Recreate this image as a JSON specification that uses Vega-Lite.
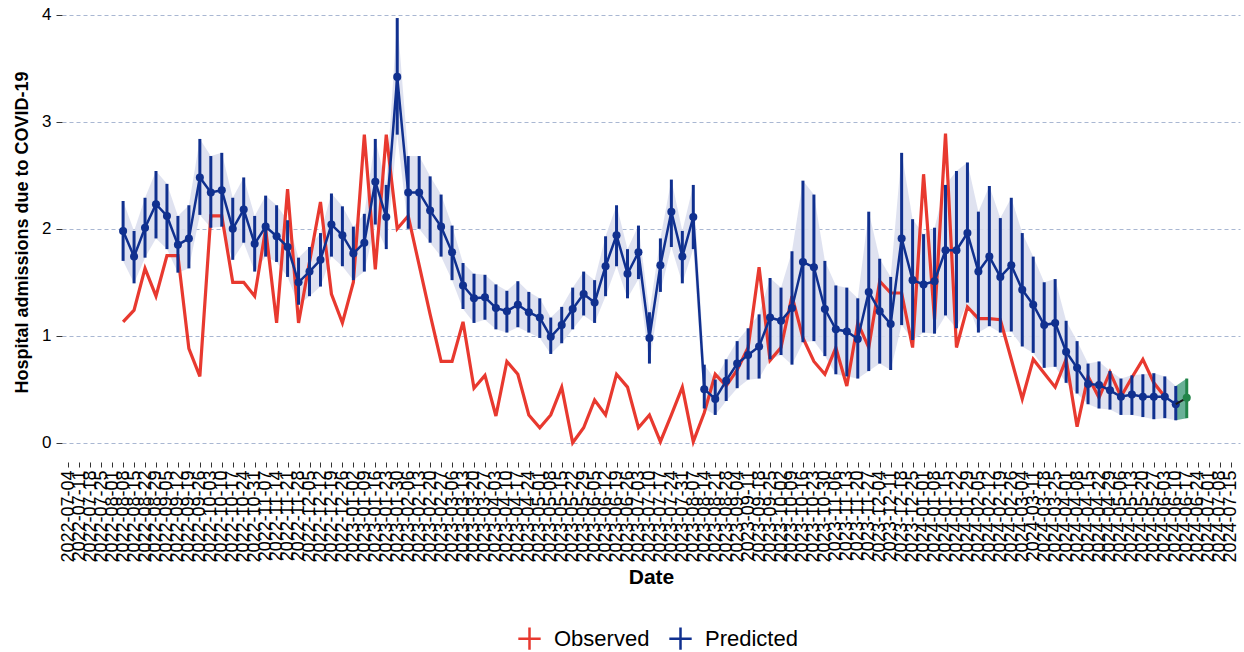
{
  "$schema": "https://vega.github.io/schema/vega-lite/v6.json",
  "autosize": {"type": "none"},
  "padding": {"left": 62, "top": 2, "right": 4, "bottom": 190},
  "width": 1178,
  "height": 460,
  "background": "white",
  "config": {
    "view": {"stroke": null},
    "font": "Liberation Sans"
  },
  "datasets": {
    "main": [
      {"date": "2022-08-08", "obs": 1.13, "pred": 1.98, "lo": 1.70, "hi": 2.26},
      {"date": "2022-08-15", "obs": 1.24, "pred": 1.74, "lo": 1.49, "hi": 1.98},
      {"date": "2022-08-22", "obs": 1.63, "pred": 2.01, "lo": 1.73, "hi": 2.29},
      {"date": "2022-08-29", "obs": 1.37, "pred": 2.23, "lo": 1.91, "hi": 2.54},
      {"date": "2022-09-05", "obs": 1.75, "pred": 2.12, "lo": 1.81, "hi": 2.42},
      {"date": "2022-09-12", "obs": 1.75, "pred": 1.85, "lo": 1.59, "hi": 2.12},
      {"date": "2022-09-19", "obs": 0.88, "pred": 1.91, "lo": 1.63, "hi": 2.22},
      {"date": "2022-09-26", "obs": 0.62, "pred": 2.48, "lo": 2.13, "hi": 2.84},
      {"date": "2022-10-03", "obs": 2.12, "pred": 2.34, "lo": 2.01, "hi": 2.68},
      {"date": "2022-10-10", "obs": 2.12, "pred": 2.36, "lo": 2.02, "hi": 2.71},
      {"date": "2022-10-17", "obs": 1.50, "pred": 2.00, "lo": 1.71, "hi": 2.29},
      {"date": "2022-10-24", "obs": 1.50, "pred": 2.18, "lo": 1.87, "hi": 2.48},
      {"date": "2022-10-31", "obs": 1.37, "pred": 1.86, "lo": 1.60, "hi": 2.12},
      {"date": "2022-11-07", "obs": 2.00, "pred": 2.02, "lo": 1.74, "hi": 2.31},
      {"date": "2022-11-14", "obs": 1.12, "pred": 1.93, "lo": 1.69, "hi": 2.22},
      {"date": "2022-11-21", "obs": 2.37, "pred": 1.83, "lo": 1.55, "hi": 2.08},
      {"date": "2022-11-28", "obs": 1.12, "pred": 1.50, "lo": 1.29, "hi": 1.73},
      {"date": "2022-12-05", "obs": 1.69, "pred": 1.60, "lo": 1.37, "hi": 1.83},
      {"date": "2022-12-12", "obs": 2.25, "pred": 1.71, "lo": 1.46, "hi": 1.96},
      {"date": "2022-12-19", "obs": 1.39, "pred": 2.04, "lo": 1.74, "hi": 2.33},
      {"date": "2022-12-26", "obs": 1.12, "pred": 1.94, "lo": 1.65, "hi": 2.21},
      {"date": "2023-01-02", "obs": 1.50, "pred": 1.77, "lo": 1.52, "hi": 2.02},
      {"date": "2023-01-09", "obs": 2.88, "pred": 1.87, "lo": 1.60, "hi": 2.14},
      {"date": "2023-01-16", "obs": 1.62, "pred": 2.44, "lo": 2.04, "hi": 2.84},
      {"date": "2023-01-23", "obs": 2.88, "pred": 2.11, "lo": 1.81, "hi": 2.41},
      {"date": "2023-01-30", "obs": 2.00, "pred": 3.42, "lo": 2.88, "hi": 3.97},
      {"date": "2023-02-06", "obs": 2.12, "pred": 2.34, "lo": 2.00, "hi": 2.68},
      {"date": "2023-02-13", "obs": 1.66, "pred": 2.34, "lo": 2.00, "hi": 2.68},
      {"date": "2023-02-20", "obs": 1.20, "pred": 2.17, "lo": 1.87, "hi": 2.49},
      {"date": "2023-02-27", "obs": 0.76, "pred": 2.02, "lo": 1.74, "hi": 2.32},
      {"date": "2023-03-06", "obs": 0.76, "pred": 1.78, "lo": 1.52, "hi": 2.03},
      {"date": "2023-03-13", "obs": 1.13, "pred": 1.47, "lo": 1.25, "hi": 1.68},
      {"date": "2023-03-20", "obs": 0.51, "pred": 1.35, "lo": 1.12, "hi": 1.58},
      {"date": "2023-03-27", "obs": 0.63, "pred": 1.36, "lo": 1.15, "hi": 1.57},
      {"date": "2023-04-03", "obs": 0.25, "pred": 1.26, "lo": 1.06, "hi": 1.48},
      {"date": "2023-04-10", "obs": 0.76, "pred": 1.23, "lo": 1.03, "hi": 1.42},
      {"date": "2023-04-17", "obs": 0.64, "pred": 1.29, "lo": 1.08, "hi": 1.51},
      {"date": "2023-04-24", "obs": 0.26, "pred": 1.22, "lo": 1.03, "hi": 1.41},
      {"date": "2023-05-01", "obs": 0.14, "pred": 1.17, "lo": 0.98, "hi": 1.35},
      {"date": "2023-05-08", "obs": 0.26, "pred": 0.99, "lo": 0.83, "hi": 1.17},
      {"date": "2023-05-15", "obs": 0.52, "pred": 1.10, "lo": 0.93, "hi": 1.27},
      {"date": "2023-05-22", "obs": 0.00, "pred": 1.25, "lo": 1.06, "hi": 1.45},
      {"date": "2023-05-29", "obs": 0.14, "pred": 1.39, "lo": 1.19, "hi": 1.60},
      {"date": "2023-06-05", "obs": 0.40, "pred": 1.31, "lo": 1.12, "hi": 1.52},
      {"date": "2023-06-12", "obs": 0.26, "pred": 1.65, "lo": 1.37, "hi": 1.93},
      {"date": "2023-06-19", "obs": 0.64, "pred": 1.94, "lo": 1.65, "hi": 2.22},
      {"date": "2023-06-26", "obs": 0.52, "pred": 1.58, "lo": 1.35, "hi": 1.81},
      {"date": "2023-07-03", "obs": 0.14, "pred": 1.78, "lo": 1.53, "hi": 2.03},
      {"date": "2023-07-10", "obs": 0.26, "pred": 0.98, "lo": 0.74, "hi": 1.22},
      {"date": "2023-07-17", "obs": 0.01, "pred": 1.66, "lo": 1.41, "hi": 1.91},
      {"date": "2023-07-24", "obs": 0.26, "pred": 2.16, "lo": 1.83, "hi": 2.46},
      {"date": "2023-07-31", "obs": 0.52, "pred": 1.74, "lo": 1.49, "hi": 1.98},
      {"date": "2023-08-07", "obs": 0.01, "pred": 2.11, "lo": 1.81, "hi": 2.41},
      {"date": "2023-08-14", "obs": 0.28, "pred": 0.50, "lo": 0.32, "hi": 0.73},
      {"date": "2023-08-21", "obs": 0.64, "pred": 0.41, "lo": 0.26, "hi": 0.59},
      {"date": "2023-08-28", "obs": 0.53, "pred": 0.58, "lo": 0.39, "hi": 0.78},
      {"date": "2023-09-04", "obs": 0.68, "pred": 0.74, "lo": 0.51, "hi": 0.95},
      {"date": "2023-09-11", "obs": 0.89, "pred": 0.82, "lo": 0.59, "hi": 1.07},
      {"date": "2023-09-18", "obs": 1.64, "pred": 0.90, "lo": 0.60, "hi": 1.20},
      {"date": "2023-09-25", "obs": 0.77, "pred": 1.17, "lo": 0.78, "hi": 1.54},
      {"date": "2023-10-02", "obs": 0.89, "pred": 1.14, "lo": 0.82, "hi": 1.45},
      {"date": "2023-10-09", "obs": 1.37, "pred": 1.26, "lo": 0.73, "hi": 1.79},
      {"date": "2023-10-16", "obs": 0.98, "pred": 1.69, "lo": 0.94, "hi": 2.45},
      {"date": "2023-10-23", "obs": 0.76, "pred": 1.64, "lo": 0.95, "hi": 2.32},
      {"date": "2023-10-30", "obs": 0.64, "pred": 1.25, "lo": 0.81, "hi": 1.70},
      {"date": "2023-11-06", "obs": 0.89, "pred": 1.06, "lo": 0.64, "hi": 1.47},
      {"date": "2023-11-13", "obs": 0.53, "pred": 1.04, "lo": 0.62, "hi": 1.45},
      {"date": "2023-11-20", "obs": 1.12, "pred": 0.97, "lo": 0.60, "hi": 1.35},
      {"date": "2023-11-27", "obs": 0.89, "pred": 1.41, "lo": 0.67, "hi": 2.16},
      {"date": "2023-12-04", "obs": 1.51, "pred": 1.23, "lo": 0.74, "hi": 1.72},
      {"date": "2023-12-11", "obs": 1.40, "pred": 1.11, "lo": 0.68, "hi": 1.55},
      {"date": "2023-12-18", "obs": 1.40, "pred": 1.91, "lo": 1.10, "hi": 2.71},
      {"date": "2023-12-25", "obs": 0.89, "pred": 1.52, "lo": 0.96, "hi": 2.09},
      {"date": "2024-01-01", "obs": 2.51, "pred": 1.48, "lo": 1.03, "hi": 1.95},
      {"date": "2024-01-08", "obs": 1.15, "pred": 1.51, "lo": 1.02, "hi": 2.01},
      {"date": "2024-01-15", "obs": 2.89, "pred": 1.80, "lo": 1.19, "hi": 2.41},
      {"date": "2024-01-22", "obs": 0.89, "pred": 1.80, "lo": 1.07, "hi": 2.54},
      {"date": "2024-01-29", "obs": 1.27, "pred": 1.96, "lo": 1.31, "hi": 2.62},
      {"date": "2024-02-05", "obs": 1.16, "pred": 1.60, "lo": 1.03, "hi": 2.16},
      {"date": "2024-02-12", "obs": 1.16, "pred": 1.74, "lo": 1.09, "hi": 2.40},
      {"date": "2024-02-19", "obs": 1.15, "pred": 1.55, "lo": 1.03, "hi": 2.10},
      {"date": "2024-02-26", "obs": 0.78, "pred": 1.66, "lo": 1.04, "hi": 2.29},
      {"date": "2024-03-04", "obs": 0.41, "pred": 1.43, "lo": 0.90, "hi": 1.96},
      {"date": "2024-03-11", "obs": 0.78, "pred": 1.29, "lo": 0.84, "hi": 1.74},
      {"date": "2024-03-18", "obs": 0.65, "pred": 1.10, "lo": 0.70, "hi": 1.50},
      {"date": "2024-03-25", "obs": 0.52, "pred": 1.12, "lo": 0.71, "hi": 1.53},
      {"date": "2024-04-01", "obs": 0.78, "pred": 0.85, "lo": 0.56, "hi": 1.14},
      {"date": "2024-04-08", "obs": 0.15, "pred": 0.70, "lo": 0.46, "hi": 0.95},
      {"date": "2024-04-15", "obs": 0.62, "pred": 0.55, "lo": 0.36, "hi": 0.74},
      {"date": "2024-04-22", "obs": 0.42, "pred": 0.54, "lo": 0.32, "hi": 0.76},
      {"date": "2024-04-29", "obs": 0.66, "pred": 0.49, "lo": 0.31, "hi": 0.67},
      {"date": "2024-05-06", "obs": 0.43, "pred": 0.43, "lo": 0.26, "hi": 0.60},
      {"date": "2024-05-13", "obs": 0.61, "pred": 0.45, "lo": 0.26, "hi": 0.63},
      {"date": "2024-05-20", "obs": 0.78, "pred": 0.43, "lo": 0.24, "hi": 0.64},
      {"date": "2024-05-27", "obs": 0.56, "pred": 0.43, "lo": 0.22, "hi": 0.65},
      {"date": "2024-06-03", "obs": 0.43, "pred": 0.43, "lo": 0.23, "hi": 0.62},
      {"date": "2024-06-10", "obs": null, "pred": 0.36, "lo": 0.21, "hi": 0.53}
    ],
    "fc": [
      {"date": "2024-06-10", "pred": 0.36, "lo": 0.21, "hi": 0.53},
      {"date": "2024-06-17", "pred": 0.42, "lo": 0.23, "hi": 0.60}
    ],
    "fcpt": [
      {"date": "2024-06-17", "pred": 0.42, "lo": 0.23, "hi": 0.60}
    ]
  },
  "encoding": {
    "x": {
      "field": "date",
      "type": "temporal",
      "scale": {
        "type": "utc",
        "domain": [
          {"year": 2022, "month": 6, "date": 30, "utc": true},
          {"year": 2024, "month": 7, "date": 21, "utc": true}
        ]
      },
      "axis": {
        "title": "Date",
        "titleFontSize": 21,
        "titleFontWeight": "bold",
        "titleColor": "black",
        "titlePadding": 4,
        "labelExpr": "utcFormat(datum.value, '%Y-%m-%d')",
        "labelAngle": 270,
        "labelFontSize": 18,
        "labelColor": "black",
        "labelOverlap": false,
        "labelPadding": 3,
        "labelBound": false,
        "labelFlush": false,
        "grid": false,
        "domain": false,
        "ticks": true,
        "tickSize": 5,
        "tickColor": "#333333",
        "values": [
          {"year": 2022, "month": 7, "date": 4, "utc": true},
          {"year": 2022, "month": 7, "date": 11, "utc": true},
          {"year": 2022, "month": 7, "date": 18, "utc": true},
          {"year": 2022, "month": 7, "date": 25, "utc": true},
          {"year": 2022, "month": 8, "date": 1, "utc": true},
          {"year": 2022, "month": 8, "date": 8, "utc": true},
          {"year": 2022, "month": 8, "date": 15, "utc": true},
          {"year": 2022, "month": 8, "date": 22, "utc": true},
          {"year": 2022, "month": 8, "date": 29, "utc": true},
          {"year": 2022, "month": 9, "date": 5, "utc": true},
          {"year": 2022, "month": 9, "date": 12, "utc": true},
          {"year": 2022, "month": 9, "date": 19, "utc": true},
          {"year": 2022, "month": 9, "date": 26, "utc": true},
          {"year": 2022, "month": 10, "date": 3, "utc": true},
          {"year": 2022, "month": 10, "date": 10, "utc": true},
          {"year": 2022, "month": 10, "date": 17, "utc": true},
          {"year": 2022, "month": 10, "date": 24, "utc": true},
          {"year": 2022, "month": 10, "date": 31, "utc": true},
          {"year": 2022, "month": 11, "date": 7, "utc": true},
          {"year": 2022, "month": 11, "date": 14, "utc": true},
          {"year": 2022, "month": 11, "date": 21, "utc": true},
          {"year": 2022, "month": 11, "date": 28, "utc": true},
          {"year": 2022, "month": 12, "date": 5, "utc": true},
          {"year": 2022, "month": 12, "date": 12, "utc": true},
          {"year": 2022, "month": 12, "date": 19, "utc": true},
          {"year": 2022, "month": 12, "date": 26, "utc": true},
          {"year": 2023, "month": 1, "date": 2, "utc": true},
          {"year": 2023, "month": 1, "date": 9, "utc": true},
          {"year": 2023, "month": 1, "date": 16, "utc": true},
          {"year": 2023, "month": 1, "date": 23, "utc": true},
          {"year": 2023, "month": 1, "date": 30, "utc": true},
          {"year": 2023, "month": 2, "date": 6, "utc": true},
          {"year": 2023, "month": 2, "date": 13, "utc": true},
          {"year": 2023, "month": 2, "date": 20, "utc": true},
          {"year": 2023, "month": 2, "date": 27, "utc": true},
          {"year": 2023, "month": 3, "date": 6, "utc": true},
          {"year": 2023, "month": 3, "date": 13, "utc": true},
          {"year": 2023, "month": 3, "date": 20, "utc": true},
          {"year": 2023, "month": 3, "date": 27, "utc": true},
          {"year": 2023, "month": 4, "date": 3, "utc": true},
          {"year": 2023, "month": 4, "date": 10, "utc": true},
          {"year": 2023, "month": 4, "date": 17, "utc": true},
          {"year": 2023, "month": 4, "date": 24, "utc": true},
          {"year": 2023, "month": 5, "date": 1, "utc": true},
          {"year": 2023, "month": 5, "date": 8, "utc": true},
          {"year": 2023, "month": 5, "date": 15, "utc": true},
          {"year": 2023, "month": 5, "date": 22, "utc": true},
          {"year": 2023, "month": 5, "date": 29, "utc": true},
          {"year": 2023, "month": 6, "date": 5, "utc": true},
          {"year": 2023, "month": 6, "date": 12, "utc": true},
          {"year": 2023, "month": 6, "date": 19, "utc": true},
          {"year": 2023, "month": 6, "date": 26, "utc": true},
          {"year": 2023, "month": 7, "date": 3, "utc": true},
          {"year": 2023, "month": 7, "date": 10, "utc": true},
          {"year": 2023, "month": 7, "date": 17, "utc": true},
          {"year": 2023, "month": 7, "date": 24, "utc": true},
          {"year": 2023, "month": 7, "date": 31, "utc": true},
          {"year": 2023, "month": 8, "date": 7, "utc": true},
          {"year": 2023, "month": 8, "date": 14, "utc": true},
          {"year": 2023, "month": 8, "date": 21, "utc": true},
          {"year": 2023, "month": 8, "date": 28, "utc": true},
          {"year": 2023, "month": 9, "date": 4, "utc": true},
          {"year": 2023, "month": 9, "date": 11, "utc": true},
          {"year": 2023, "month": 9, "date": 18, "utc": true},
          {"year": 2023, "month": 9, "date": 25, "utc": true},
          {"year": 2023, "month": 10, "date": 2, "utc": true},
          {"year": 2023, "month": 10, "date": 9, "utc": true},
          {"year": 2023, "month": 10, "date": 16, "utc": true},
          {"year": 2023, "month": 10, "date": 23, "utc": true},
          {"year": 2023, "month": 10, "date": 30, "utc": true},
          {"year": 2023, "month": 11, "date": 6, "utc": true},
          {"year": 2023, "month": 11, "date": 13, "utc": true},
          {"year": 2023, "month": 11, "date": 20, "utc": true},
          {"year": 2023, "month": 11, "date": 27, "utc": true},
          {"year": 2023, "month": 12, "date": 4, "utc": true},
          {"year": 2023, "month": 12, "date": 11, "utc": true},
          {"year": 2023, "month": 12, "date": 18, "utc": true},
          {"year": 2023, "month": 12, "date": 25, "utc": true},
          {"year": 2024, "month": 1, "date": 1, "utc": true},
          {"year": 2024, "month": 1, "date": 8, "utc": true},
          {"year": 2024, "month": 1, "date": 15, "utc": true},
          {"year": 2024, "month": 1, "date": 22, "utc": true},
          {"year": 2024, "month": 1, "date": 29, "utc": true},
          {"year": 2024, "month": 2, "date": 5, "utc": true},
          {"year": 2024, "month": 2, "date": 12, "utc": true},
          {"year": 2024, "month": 2, "date": 19, "utc": true},
          {"year": 2024, "month": 2, "date": 26, "utc": true},
          {"year": 2024, "month": 3, "date": 4, "utc": true},
          {"year": 2024, "month": 3, "date": 11, "utc": true},
          {"year": 2024, "month": 3, "date": 18, "utc": true},
          {"year": 2024, "month": 3, "date": 25, "utc": true},
          {"year": 2024, "month": 4, "date": 1, "utc": true},
          {"year": 2024, "month": 4, "date": 8, "utc": true},
          {"year": 2024, "month": 4, "date": 15, "utc": true},
          {"year": 2024, "month": 4, "date": 22, "utc": true},
          {"year": 2024, "month": 4, "date": 29, "utc": true},
          {"year": 2024, "month": 5, "date": 6, "utc": true},
          {"year": 2024, "month": 5, "date": 13, "utc": true},
          {"year": 2024, "month": 5, "date": 20, "utc": true},
          {"year": 2024, "month": 5, "date": 27, "utc": true},
          {"year": 2024, "month": 6, "date": 3, "utc": true},
          {"year": 2024, "month": 6, "date": 10, "utc": true},
          {"year": 2024, "month": 6, "date": 17, "utc": true},
          {"year": 2024, "month": 6, "date": 24, "utc": true},
          {"year": 2024, "month": 7, "date": 1, "utc": true},
          {"year": 2024, "month": 7, "date": 8, "utc": true},
          {"year": 2024, "month": 7, "date": 15, "utc": true}
        ]
      }
    }
  },
  "layer": [
    {
      "data": {"name": "main"},
      "mark": {"type": "area", "color": "#dcdfee", "opacity": 0.9},
      "encoding": {
        "y": {
          "field": "lo",
          "type": "quantitative",
          "scale": {"domain": [-0.18, 4.12], "nice": false, "zero": false},
          "axis": {
            "title": "Hospital admissions due to COVID-19",
            "titleFontSize": 18,
            "titleFontWeight": "bold",
            "titleColor": "black",
            "titlePadding": 10,
            "values": [0, 1, 2, 3, 4],
            "format": "d",
            "labelFontSize": 17,
            "labelColor": "black",
            "labelPadding": 5,
            "grid": true,
            "gridColor": "#a9b7d2",
            "gridDash": [4, 3],
            "gridWidth": 1,
            "domain": false,
            "ticks": true,
            "tickSize": 6,
            "tickColor": "#333333"
          }
        },
        "y2": {"field": "hi"}
      }
    },
    {
      "data": {"name": "fc"},
      "mark": {"type": "area", "color": "#4fa285", "opacity": 0.85},
      "encoding": {
        "y": {"field": "lo", "type": "quantitative"},
        "y2": {"field": "hi"}
      }
    },
    {
      "data": {"name": "main"},
      "mark": {"type": "line", "strokeWidth": 3.2},
      "encoding": {
        "y": {"field": "obs", "type": "quantitative"},
        "color": {
          "datum": "Observed",
          "type": "nominal",
          "scale": {"domain": ["Observed", "Predicted"], "range": ["#e8392f", "#10308f"]},
          "legend": {
            "title": null,
            "orient": "none",
            "legendX": 455,
            "legendY": 624,
            "direction": "horizontal",
            "labelFontSize": 22,
            "labelColor": "black",
            "labelFont": "Liberation Sans",
            "symbolType": "M-1,0H1M0,-1V1",
            "symbolSize": 500,
            "symbolStrokeWidth": 2.5,
            "columnPadding": 14,
            "labelOffset": 12
          }
        }
      }
    },
    {
      "data": {"name": "main"},
      "mark": {"type": "rule", "color": "#10308f", "strokeWidth": 3},
      "encoding": {
        "y": {"field": "lo", "type": "quantitative"},
        "y2": {"field": "hi"}
      }
    },
    {
      "data": {"name": "main"},
      "mark": {"type": "line", "strokeWidth": 2.5},
      "encoding": {
        "y": {"field": "pred", "type": "quantitative"},
        "color": {"datum": "Predicted", "type": "nominal"}
      }
    },
    {
      "data": {"name": "main"},
      "mark": {"type": "point", "filled": true, "opacity": 1, "size": 65, "color": "#10308f"},
      "encoding": {
        "y": {"field": "pred", "type": "quantitative"}
      }
    },
    {
      "data": {"name": "fc"},
      "mark": {"type": "line", "strokeWidth": 2, "color": "#1a1a1a"},
      "encoding": {
        "y": {"field": "pred", "type": "quantitative"}
      }
    },
    {
      "data": {"name": "fcpt"},
      "mark": {"type": "rule", "color": "#23854a", "strokeWidth": 3},
      "encoding": {
        "y": {"field": "lo", "type": "quantitative"},
        "y2": {"field": "hi"}
      }
    },
    {
      "data": {"name": "fcpt"},
      "mark": {"type": "point", "filled": true, "opacity": 1, "size": 65, "color": "#23854a"},
      "encoding": {
        "y": {"field": "pred", "type": "quantitative"}
      }
    }
  ]
}
